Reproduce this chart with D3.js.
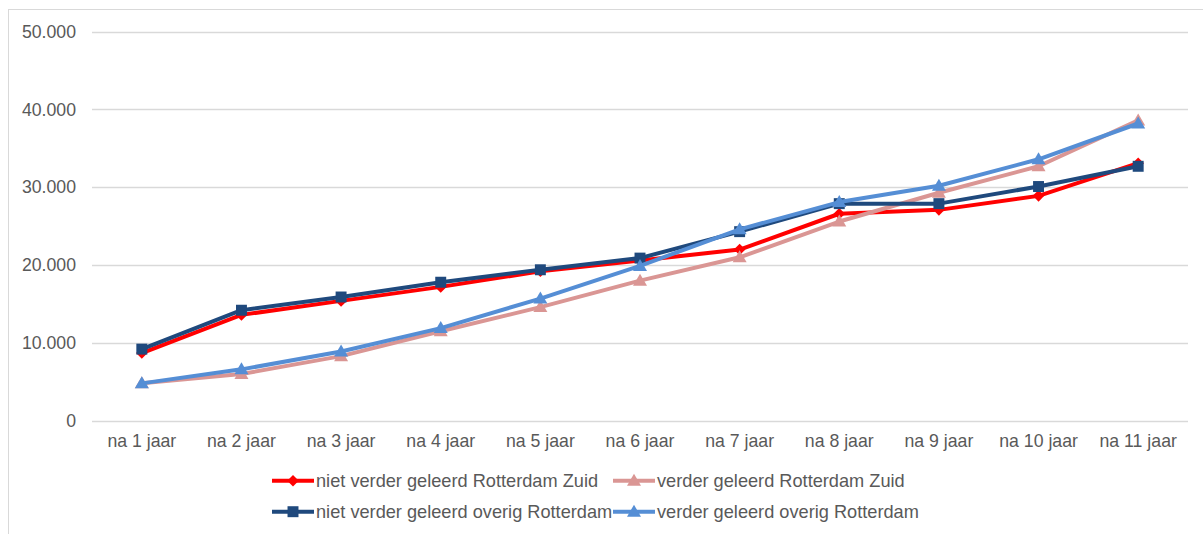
<!DOCTYPE html>
<html>
<head>
<meta charset="utf-8">
<script src="https://cdn.jsdelivr.net/npm/d3@7"></script>
<style>
  html, body { margin: 0; padding: 0; background: #fff; }
  svg { display: block; font-family: "Liberation Sans", Arial, sans-serif; }
</style>
</head>
<body>
<svg id="chart" width="1203" height="534"></svg>
<script>
// Categories along the x axis
const categories = ["na 1 jaar", "na 2 jaar", "na 3 jaar", "na 4 jaar", "na 5 jaar", "na 6 jaar",
                    "na 7 jaar", "na 8 jaar", "na 9 jaar", "na 10 jaar", "na 11 jaar"];

// Series values
const nietVerderZuid   = [8700, 13600, 15400, 17200, 19200, 20600, 22000, 26600, 27100, 28900, 33100];
const verderZuid       = [4800, 6000, 8300, 11500, 14600, 18000, 21000, 25600, 29300, 32700, 38600];
const nietVerderOverig = [9200, 14200, 15900, 17800, 19400, 20900, 24300, 27900, 27900, 30100, 32700];
const verderOverig     = [4800, 6600, 8900, 11900, 15700, 19900, 24600, 28100, 30200, 33600, 38200];

// Y axis ticks
const yTicks = [0, 10000, 20000, 30000, 40000, 50000];

const series = [
  { name: "niet verder geleerd Rotterdam Zuid",   values: nietVerderZuid,   color: "#FF0000", marker: "diamond" },
  { name: "verder geleerd Rotterdam Zuid",        values: verderZuid,       color: "#DA9694", marker: "triangle" },
  { name: "niet verder geleerd overig Rotterdam", values: nietVerderOverig, color: "#1F497D", marker: "square" },
  { name: "verder geleerd overig Rotterdam",      values: verderOverig,     color: "#558ED5", marker: "triangle" }
];

const svg = d3.select("#chart");
const textColor = "#595959";
const fontSize = "17.7px";
const legendFontSize = "18.2px";

// chart frame
svg.append("rect")
  .attr("x", 8.5).attr("y", 9.5)
  .attr("width", 1220).attr("height", 560)
  .attr("fill", "none").attr("stroke", "#d9d9d9").attr("stroke-width", 1);

const plot = { left: 92, right: 1188, top: 31.7, bottom: 420.7 };

const x = d3.scaleBand().domain(categories).range([plot.left, plot.right]).padding(0);
const y = d3.scaleLinear().domain([0, 50000]).range([plot.bottom, plot.top]);

const fmt = v => d3.format(",")(v).replace(/,/g, ".");

// horizontal gridlines
svg.append("g")
  .selectAll("line")
  .data(yTicks)
  .join("line")
  .attr("x1", plot.left).attr("x2", plot.right)
  .attr("y1", d => Math.round(y(d)) + 0.5).attr("y2", d => Math.round(y(d)) + 0.5)
  .attr("stroke", "#d9d9d9").attr("stroke-width", 1.3);

// y axis labels
const yAxis = d3.axisLeft(y).tickValues(yTicks).tickFormat(fmt).tickSize(0).tickPadding(0);
const yg = svg.append("g").attr("transform", `translate(76,0)`).call(yAxis);
yg.select(".domain").remove();
yg.selectAll("text").attr("fill", textColor).style("font-size", fontSize)
  .style("font-family", "Liberation Sans, Arial, sans-serif");

// x axis labels
const xAxis = d3.axisBottom(x).tickSize(0).tickPadding(0);
const xg = svg.append("g").attr("transform", `translate(0,${plot.bottom + 14})`).call(xAxis);
xg.select(".domain").remove();
xg.selectAll("text").attr("fill", textColor).style("font-size", fontSize)
  .style("font-family", "Liberation Sans, Arial, sans-serif");

// marker shapes
function markerPath(type) {
  if (type === "diamond") return d3.symbol().type(d3.symbolDiamond2).size(85)();
  if (type === "square") return d3.symbol().type(d3.symbolSquare).size(120)();
  return "M0,-7L7,5L-7,5Z";
}

const line = d3.line()
  .x((d, i) => x(categories[i]) + x.bandwidth() / 2)
  .y(d => y(d));

series.forEach(s => {
  const g = svg.append("g");
  g.append("path")
    .attr("d", line(s.values))
    .attr("fill", "none")
    .attr("stroke", s.color)
    .attr("stroke-width", 4)
    .attr("stroke-linejoin", "round");
  g.selectAll("path.m")
    .data(s.values)
    .join("path")
    .attr("class", "m")
    .attr("d", markerPath(s.marker))
    .attr("transform", (d, i) => `translate(${x(categories[i]) + x.bandwidth() / 2},${y(d)})`)
    .attr("fill", s.color);
});

// legend
const legendPos = [
  { lx: 272, ly: 480.7 },
  { lx: 613, ly: 480.7 },
  { lx: 272, ly: 511.7 },
  { lx: 613, ly: 511.7 }
];
series.forEach((s, i) => {
  const p = legendPos[i];
  const g = svg.append("g").attr("transform", `translate(${p.lx},${p.ly})`);
  g.append("line").attr("x1", 0).attr("x2", 42).attr("y1", 0).attr("y2", 0)
    .attr("stroke", s.color).attr("stroke-width", 4);
  g.append("path").attr("d", markerPath(s.marker)).attr("transform", "translate(21,0)")
    .attr("fill", s.color);
  g.append("text").attr("x", 44).attr("y", 0).attr("dy", "0.35em")
    .attr("fill", textColor).style("font-size", legendFontSize)
    .text(s.name);
});
</script>
</body>
</html>
